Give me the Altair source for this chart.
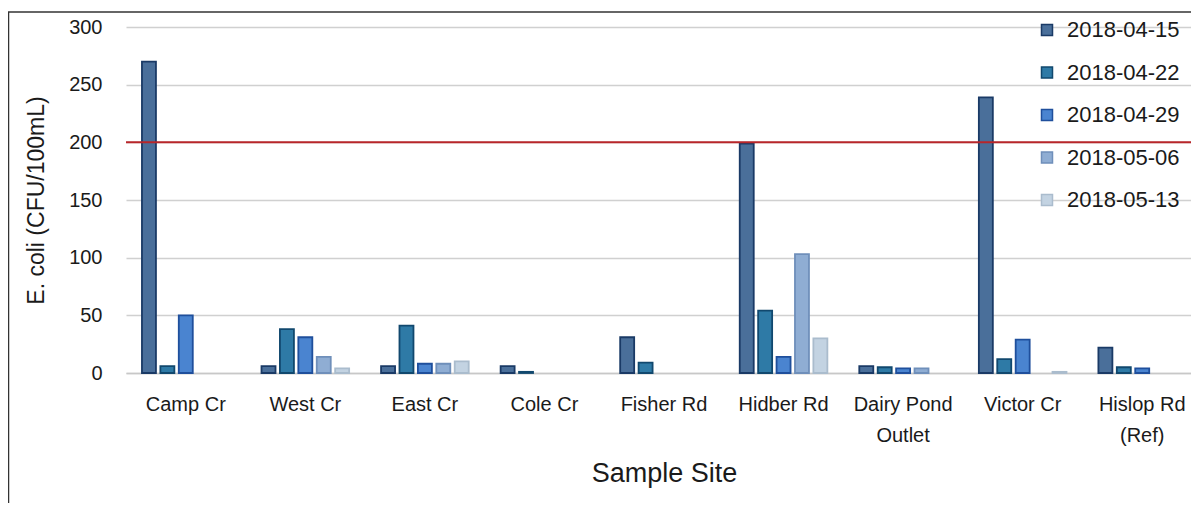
import altair as alt
import pandas as pd

sites = ["Camp Cr", "West Cr", "East Cr", "Cole Cr", "Fisher Rd", "Hidber Rd",
         "Dairy Pond\nOutlet", "Victor Cr", "Hislop Rd\n(Ref)"]
dates = ["2018-04-15", "2018-04-22", "2018-04-29", "2018-05-06", "2018-05-13"]
v_0415 = [270, 6, 6, 6, 31, 199, 6, 239, 22]
v_0422 = [6, 38, 41, 1, 9, 54, 5, 12, 5]
v_0429 = [50, 31, 8, None, None, 14, 4, 29, 4]
v_0506 = [None, 14, 8, None, None, 103, 4, None, None]
v_0513 = [None, 4, 10, None, None, 30, None, 1, None]
limit = [200]

fills = ["#4a6f9a", "#2e7aa6", "#4a84d0", "#8fadd3", "#c3d3e2"]
strokes = ["#1a3a66", "#11486e", "#1f4f9c", "#6f8fba", "#aabccd"]

rows = []
for d, vals in zip(dates, [v_0415, v_0422, v_0429, v_0506, v_0513]):
    for s, v in zip(sites, vals):
        if v is not None:
            rows.append({"site": s, "date": d, "value": v})
df = pd.DataFrame(rows)

FONT = "Liberation Sans"
W, H = 1065, 346

legend_kw = dict(title=None, orient="none", legendX=910, legendY=-8,
                 labelFont=FONT, labelFontSize=22, labelColor="#1a1a1a",
                 symbolType="square", symbolSize=121, symbolStrokeWidth=1.5,
                 rowPadding=20.5, labelOffset=9, padding=0)

x = alt.X("site:N", sort=sites,
          scale=alt.Scale(paddingInner=0.23, paddingOuter=0.115, range=[0, 1076]),
          axis=alt.Axis(title="Sample Site", labelAngle=0, labelFont=FONT, labelFontSize=20,
                        labelColor="#1a1a1a", labelPadding=21, labelLineHeight=31,
                        labelExpr="split(datum.label, '\\n')", ticks=False,
                        domainColor="#c8c8c8", domainWidth=1.5,
                        titleFont=FONT, titleFontSize=27, titleFontWeight="normal",
                        titleColor="#1a1a1a", titleX=538, titleY=87, titleBaseline="top"))
y = alt.Y("value:Q", scale=alt.Scale(domain=[0, 300]),
          axis=alt.Axis(title="E. coli (CFU/100mL)", values=[0, 50, 100, 150, 200, 250, 300],
                        labelFont=FONT, labelFontSize=20, labelColor="#1a1a1a", labelPadding=24,
                        ticks=False, domain=False, gridColor="#d0d0d0", gridWidth=1.5,
                        titleFont=FONT, titleFontSize=23, titleFontWeight="normal",
                        titleColor="#1a1a1a", titleX=-78, titleY=173, titleBaseline="bottom"))

bars = alt.Chart(df).mark_bar(strokeWidth=1.8).encode(
    x=x, y=y,
    xOffset=alt.XOffset("date:N", sort=dates,
                        scale=alt.Scale(paddingInner=0.24, paddingOuter=0.12)),
    fill=alt.Fill("date:N", sort=dates, scale=alt.Scale(domain=dates, range=fills),
                  legend=alt.Legend(**legend_kw)),
    stroke=alt.Stroke("date:N", sort=dates, scale=alt.Scale(domain=dates, range=strokes),
                      legend=alt.Legend(**legend_kw)),
)

lim = alt.Chart(pd.DataFrame({"limit": limit})).mark_rule(color="#b8262a", strokeWidth=2).encode(
    y=alt.Y("limit:Q"), x=alt.value(0), x2=alt.value(W))

border_top = alt.Chart(pd.DataFrame({"a": [0]})).mark_rule(color="#333333", strokeWidth=1.5).encode(
    x=alt.value(-118), x2=alt.value(W + 20), y=alt.value(-15))
border_left = alt.Chart(pd.DataFrame({"a": [0]})).mark_rule(color="#333333", strokeWidth=1.5).encode(
    x=alt.value(-117.5), y=alt.value(-15), y2=alt.value(520))

chart = alt.layer(bars, lim, border_top, border_left).properties(
    width=W, height=H,
    autosize=alt.AutoSizeParams(type="none"),
    padding={"left": 118, "top": 19, "right": 0, "bottom": 130},
).configure(background="white").configure_view(stroke=None)

chart.save("out.html", embed_options={"renderer": "svg", "actions": False})
